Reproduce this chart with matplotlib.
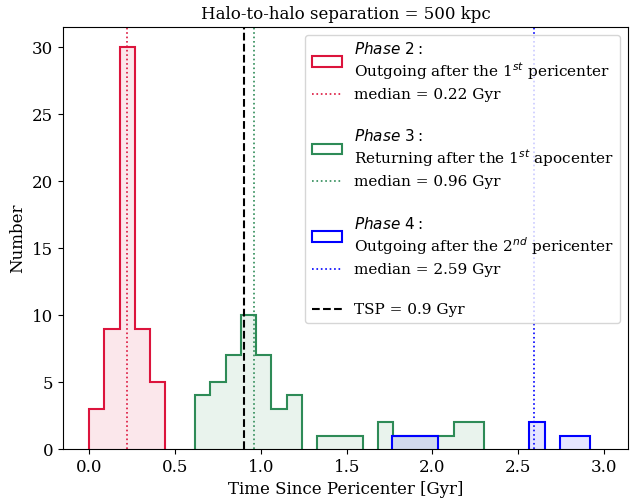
import numpy as np
import matplotlib
matplotlib.use("Agg")
import matplotlib.pyplot as plt
from matplotlib.lines import Line2D
from matplotlib.patches import Patch

plt.rcParams['font.family'] = 'DejaVu Serif'
plt.rcParams['font.size'] = 12

# histogram counts per phase
p2_counts = [3, 9, 30, 9, 5]
p3_counts = [4, 5, 7, 10, 7, 3, 4, 0, 1, 1, 1, 0, 2, 1, 1, 1, 1, 2, 2]
p4_counts = [1, 1, 1, 0, 0, 0, 0, 0, 0, 2, 0, 1, 1]

# bin ranges [Gyr]
p2_range = (0.0, 0.444)
p3_range = (0.617, 2.303)
p4_range = (1.766, 2.920)

medians = [0.22, 0.96, 2.59]
tsp = 0.9

colors = ['crimson', 'seagreen', 'blue']
labels = [r"$Phase\ 2:$" + "\nOutgoing after the 1$^{st}$ pericenter",
          r"$Phase\ 3:$" + "\nReturning after the 1$^{st}$ apocenter",
          r"$Phase\ 4:$" + "\nOutgoing after the 2$^{nd}$ pericenter"]

fig, ax = plt.subplots(figsize=(6.3, 5.04), dpi=100)
fig.subplots_adjust(left=0.1, right=0.997, top=0.946, bottom=0.109)

handles = []
for counts, rng, c, lab, med in zip([p2_counts, p3_counts, p4_counts],
                                    [p2_range, p3_range, p4_range],
                                    colors, labels, medians):
    counts = np.array(counts, dtype=float)
    edges = np.linspace(rng[0], rng[1], len(counts) + 1)
    # empty bins -> nan so that no outline runs along the x axis
    vals = np.where(counts > 0, counts, np.nan)
    ax.stairs(vals, edges, baseline=0, fill=True, color=c, alpha=0.1, lw=0)
    ax.stairs(vals, edges, baseline=0, color=c, lw=1.5)
    ml = ax.axvline(med, color=c, ls=':', lw=1.2, label=f'median = {med:.2f} Gyr')
    box = Patch(facecolor='none', edgecolor=c, lw=1.5, label=lab)
    blank = Line2D([], [], color='none', label=' ')
    handles += [box, ml, blank]

tl = ax.axvline(tsp, color='k', ls='--', lw=1.5, label=f'TSP = {tsp} Gyr')
handles.append(tl)

ax.set_xlim(-0.153, 3.14)
ax.set_ylim(0, 31.5)
ax.set_xlabel('Time Since Pericenter [Gyr]')
ax.set_ylabel('Number')
ax.set_title('Halo-to-halo separation = 500 kpc', fontsize=12)
ax.legend(handles=handles, loc='upper right', fontsize=11, labelspacing=0.4)

plt.savefig('out.png')
